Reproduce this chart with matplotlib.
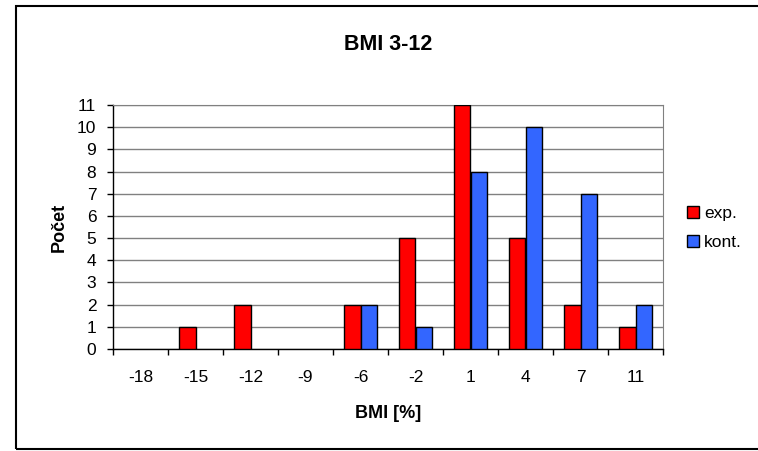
import numpy as np
import matplotlib.pyplot as plt
from matplotlib.patches import Rectangle, Patch

# histogram BMI 3-12: counts per change class
kategorie = ["-18", "-15", "-12", "-9", "-6", "-2", "1", "4", "7", "11"]
exp_pocet = [0, 1, 2, 0, 2, 5, 11, 5, 2, 1]
kont_pocet = [0, 0, 0, 0, 2, 1, 8, 10, 7, 2]

plt.rcParams['font.family'] = ['Liberation Sans', 'DejaVu Sans']

fig = plt.figure(figsize=(7.58, 4.51), dpi=100)
ax = fig.add_axes([113 / 758, 102 / 451, 550 / 758, 244 / 451])

x = np.arange(len(kategorie))
sirka = 0.3
b1 = ax.bar(x - sirka / 2, exp_pocet, sirka, color='#ff0000', edgecolor='black',
            linewidth=1, zorder=3)
b2 = ax.bar(x + sirka / 2, kont_pocet, sirka, color='#3366ff', edgecolor='black',
            linewidth=1, zorder=3)
# empty classes get no outline
for sloupec in list(b1) + list(b2):
    if sloupec.get_height() == 0:
        sloupec.set_visible(False)

ax.set_xlim(-0.5, len(kategorie) - 0.5)
ax.set_ylim(0, 11)
ax.set_yticks(range(0, 12))
ax.grid(axis='y', color='#808080', linewidth=1, zorder=0)

# ticks between the classes, labels under the class centres
ax.set_xticks(np.arange(-0.5, len(kategorie)), labels=[])
ax.set_xticks(x, labels=kategorie, minor=True)
ax.tick_params(axis='x', which='major', direction='out', length=4, width=1)
ax.tick_params(axis='x', which='minor', length=0, pad=15, labelsize=12.5)
ax.tick_params(axis='y', direction='out', length=4, width=1, pad=8, labelsize=12.5)

for s in ['top', 'right']:
    ax.spines[s].set_color('#808080')
for s in ['left', 'bottom']:
    ax.spines[s].set_color('black')
    ax.spines[s].set_linewidth(1)

ax.set_xlabel('BMI [%]', fontsize=13, fontweight='bold')
ax.xaxis.set_label_coords(0.5, -0.228)
ax.set_ylabel('Počet', fontsize=13, fontweight='bold')
ax.yaxis.set_label_coords(-0.083, 0.5)

fig.text(0.5 * (113 + 663) / 758, 1 - 44 / 451, 'BMI 3-12', ha='center',
         va='center', fontsize=15.5, fontweight='bold')

handles = [Patch(facecolor='#ff0000', edgecolor='black', linewidth=1, label='exp.'),
           Patch(facecolor='#3366ff', edgecolor='black', linewidth=1, label='kont.')]
leg = fig.legend(handles=handles, loc='center left',
                 bbox_to_anchor=(671 / 758, 1 - 228 / 451),
                 frameon=False, fontsize=12.5, handlelength=0.7,
                 handleheight=0.7, handletextpad=0.3, labelspacing=0.75)

# outer chart frame
fig.patches.append(Rectangle((16 / 758, 2 / 451), 1.0, 443 / 451,
                             transform=fig.transFigure, fill=False,
                             edgecolor='black', linewidth=1.5))

fig.savefig('out.png', dpi=100)
